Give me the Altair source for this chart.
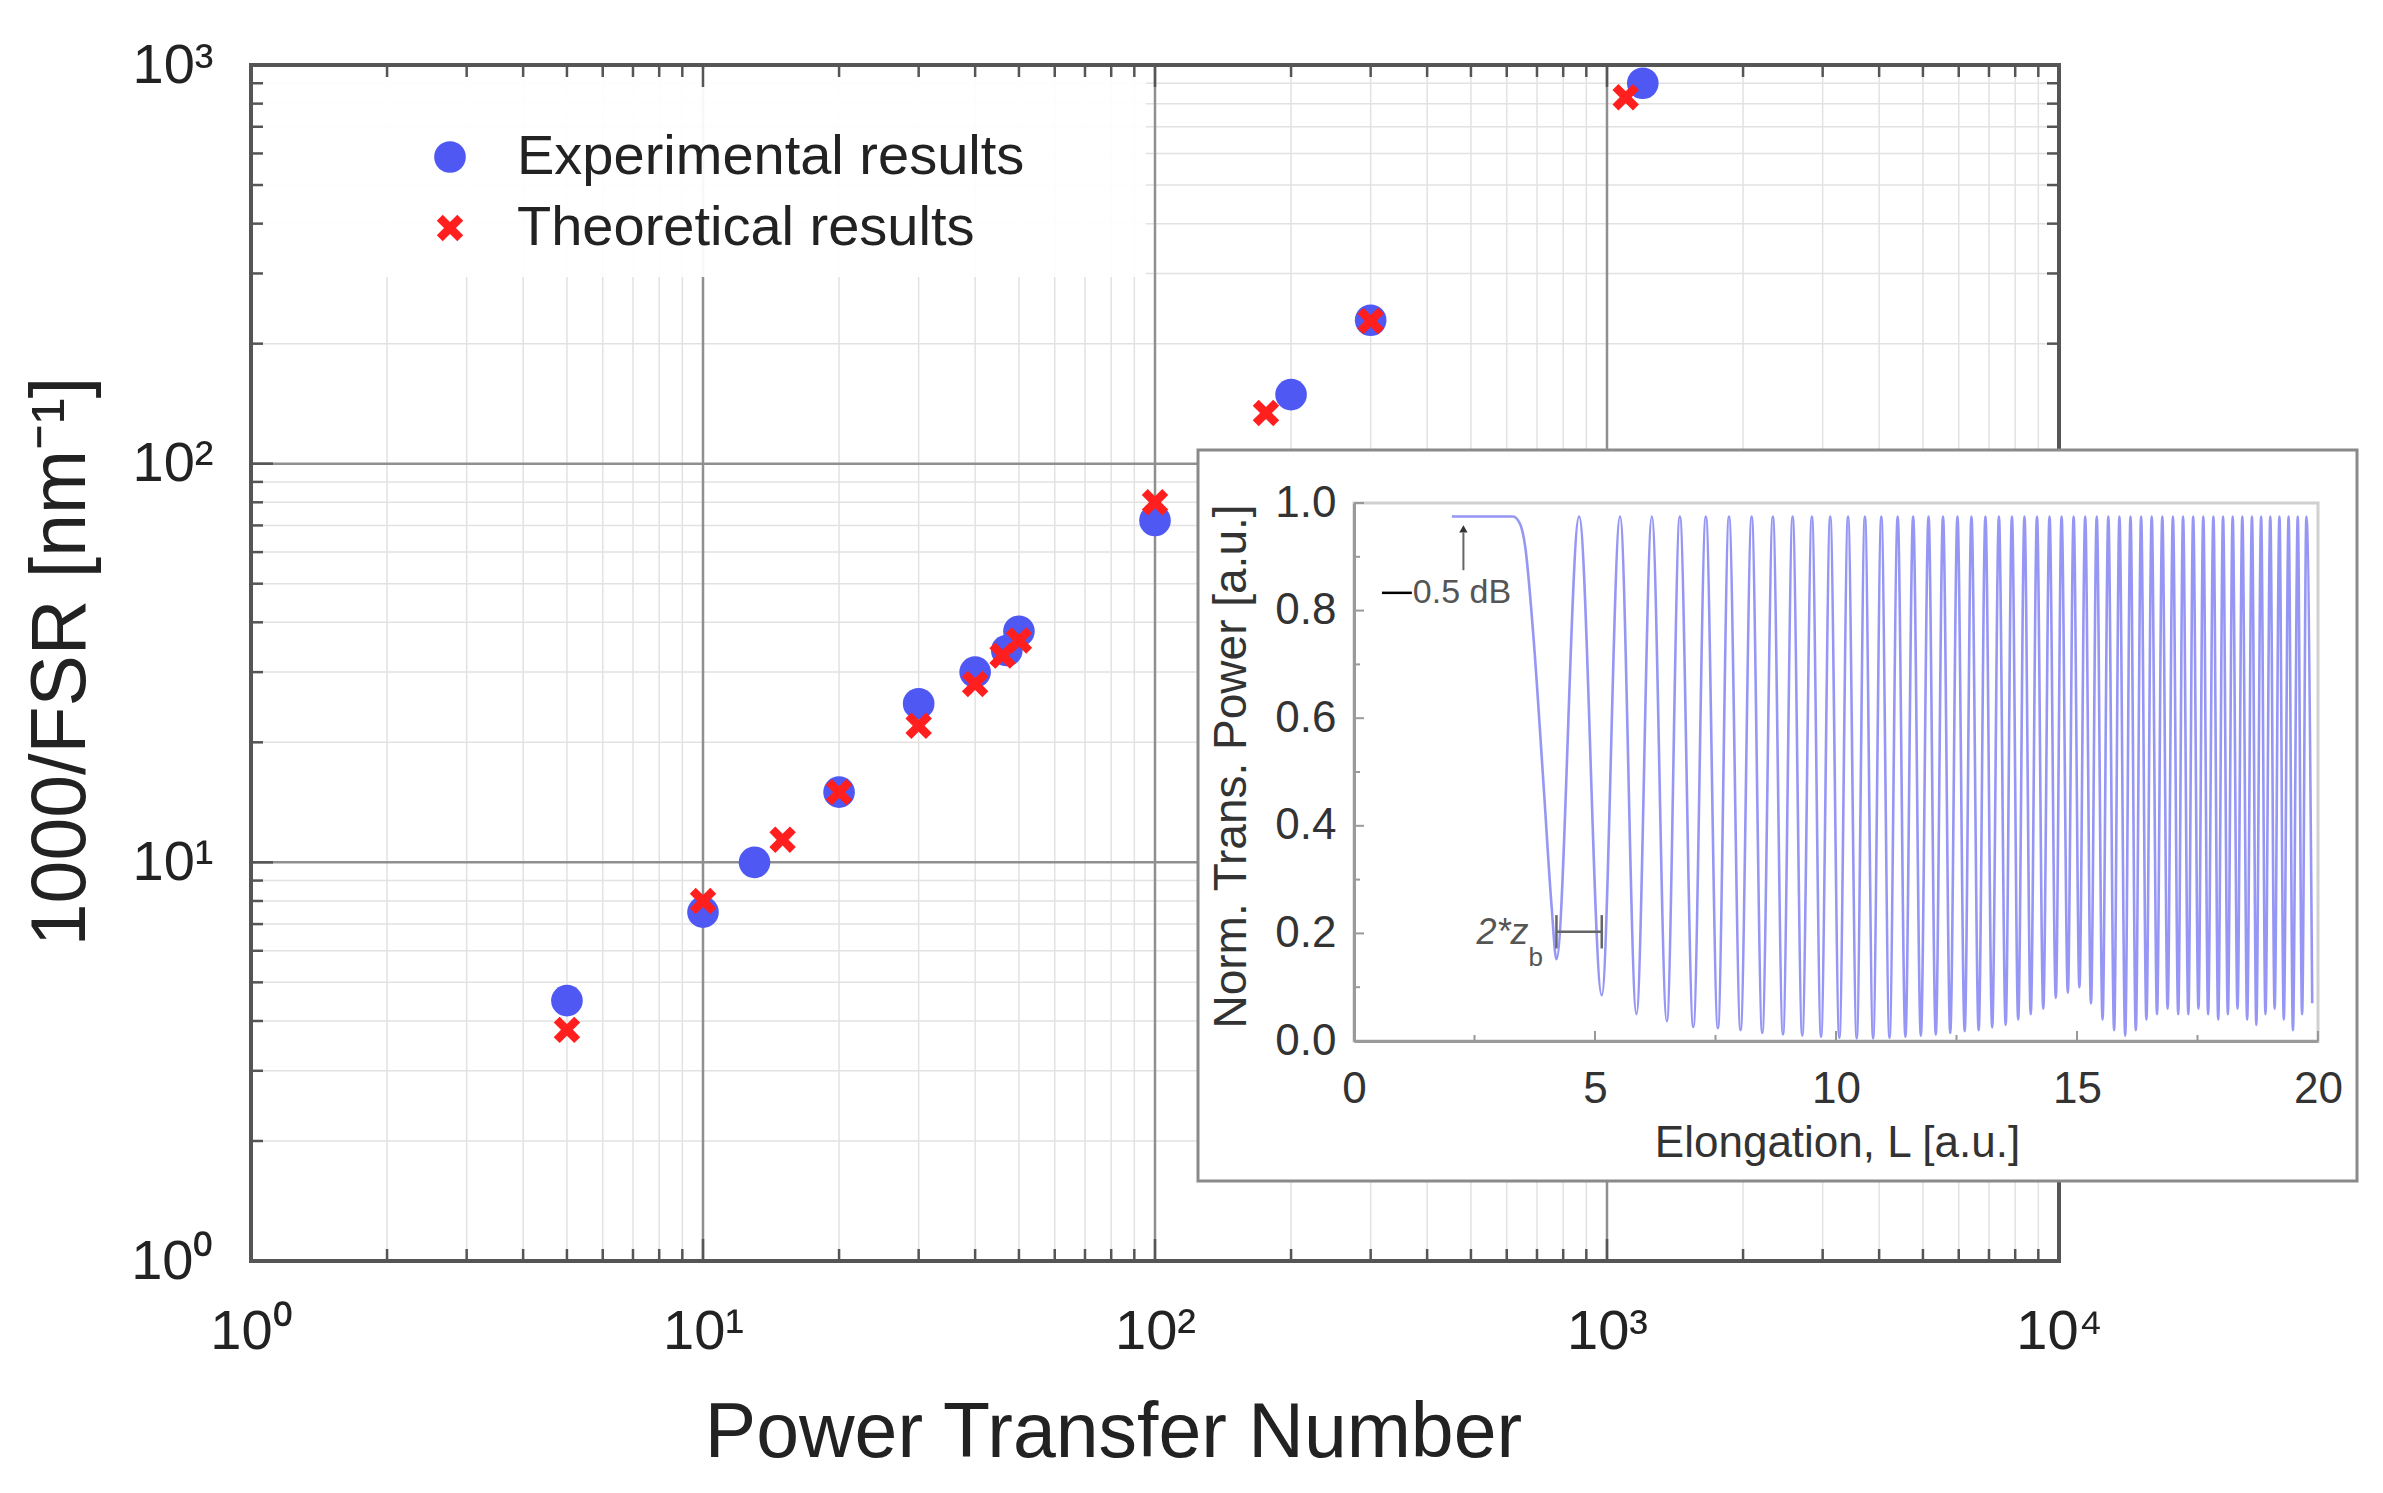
import altair as alt
import pandas as pd

FONT = "Liberation Sans"
EXP_COLOR = "#4f58f2"
TH_COLOR = "#ff1f1f"

# ---------------- main plot data ----------------
exp_x = [5, 10, 13, 20, 30, 40, 47, 50, 100, 200, 300, 1200]
exp_y = [4.5, 7.5, 10.0, 15.0, 25.0, 30.0, 34.0, 38.0, 72.0, 149.0, 229.0, 900.0]
th_x = [5, 10, 15, 20, 30, 40, 46, 50, 100, 176, 300, 1100]
th_y = [3.8, 8.0, 11.4, 15.0, 22.0, 28.0, 33.0, 36.0, 80.0, 134.0, 228.0, 830.0]

legend_labels = ["Experimental results", "Theoretical results"]

x_decades = [1, 10, 100, 1000, 10000]
y_decades = [1, 10, 100, 1000]
minor_mult = [2, 3, 4, 5, 6, 7, 8, 9]
x_minor = [d * m for d in [1, 10, 100, 1000] for m in minor_mult]
y_minor = [d * m for d in [1, 10, 100] for m in minor_mult]

# ---------------- inset data ----------------
inset_L = [2.03, 3.30, 3.45, 3.55, 3.72, 3.93, 4.10, 4.20,
           4.67, 5.14, 5.52, 5.86, 6.18, 6.49, 6.76, 7.04, 7.30, 7.55, 7.78, 8.02,
           8.25, 8.47, 8.69, 8.90, 9.10, 9.30, 9.50, 9.69, 9.88, 10.07,
           10.25, 10.43, 10.60, 10.77, 10.94, 11.11, 11.28, 11.44, 11.60, 11.76,
           11.92, 12.07, 12.22, 12.37, 12.52, 12.67, 12.81, 12.96, 13.10, 13.24,
           13.38, 13.52, 13.65, 13.78, 13.91, 14.04, 14.17, 14.30, 14.43, 14.56,
           14.68, 14.81, 14.93, 15.05, 15.17, 15.29, 15.41, 15.53, 15.65, 15.77,
           15.88, 16.00, 16.11, 16.22, 16.33, 16.44, 16.55, 16.66, 16.77, 16.88,
           16.99, 17.10, 17.20, 17.31, 17.41, 17.52, 17.62, 17.72, 17.83, 17.93,
           18.03, 18.13, 18.23, 18.33, 18.43, 18.53, 18.63, 18.72, 18.82, 18.91,
           19.01, 19.10, 19.20, 19.29, 19.39, 19.48, 19.58, 19.67, 19.76, 19.88]
inset_T = [0.975, 0.975, 0.96, 0.92, 0.755, 0.48, 0.25, 0.152,
           0.975, 0.085, 0.975, 0.05, 0.975, 0.037, 0.975, 0.026, 0.975, 0.024, 0.975, 0.02,
           0.975, 0.015, 0.975, 0.012, 0.975, 0.010, 0.975, 0.008, 0.975, 0.006,
           0.975, 0.005, 0.975, 0.005, 0.975, 0.006, 0.975, 0.008, 0.975, 0.010,
           0.975, 0.012, 0.975, 0.015, 0.975, 0.018, 0.975, 0.020, 0.975, 0.025,
           0.975, 0.030, 0.975, 0.040, 0.975, 0.050, 0.975, 0.060, 0.975, 0.080,
           0.975, 0.090, 0.975, 0.100, 0.975, 0.070, 0.975, 0.040, 0.975, 0.020,
           0.975, 0.010, 0.975, 0.020, 0.975, 0.040, 0.975, 0.050, 0.975, 0.060,
           0.975, 0.050, 0.975, 0.050, 0.975, 0.060, 0.975, 0.050, 0.975, 0.040,
           0.975, 0.050, 0.975, 0.060, 0.975, 0.040, 0.975, 0.030, 0.975, 0.050,
           0.975, 0.060, 0.975, 0.040, 0.975, 0.020, 0.975, 0.050, 0.975, 0.070]
inset_x_ticks = [0, 5, 10, 15, 20]
inset_x_minor = [2.5, 7.5, 12.5, 17.5]
inset_y_ticks = [0.0, 0.2, 0.4, 0.6, 0.8, 1.0]
inset_y_minor = [0.1, 0.3, 0.5, 0.7, 0.9]

# ---------------- geometry ----------------
W, H = 1808, 1196
one = pd.DataFrame({"k": [0]})

sup_expr = ("datum.value == 1 ? '10\u2070' : datum.value == 10 ? '10\u00b9' : "
            "datum.value == 100 ? '10\u00b2' : datum.value == 1000 ? '10\u00b3' : '10\u2074'")

xs = alt.Scale(type="log", domain=[1, 10000], nice=False)
ys = alt.Scale(type="log", domain=[1, 1000], nice=False)

x_axis = alt.Axis(values=x_decades, labelExpr=sup_expr, labelFont=FONT, labelFontSize=56,
                  labelColor="#222", labelPadding=43, labelFlush=False, labelOverlap=False,
                  ticks=False, tickSize=0, domain=False, grid=False,
                  title="Power Transfer Number", titleFont=FONT, titleFontSize=77,
                  titleFontWeight="normal", titleColor="#222", titleX=862, titleY=172,
                  titleBaseline="middle", titleAlign="center")
y_axis = alt.Axis(values=y_decades, labelExpr=sup_expr, labelFont=FONT, labelFontSize=56,
                  labelColor="#222", labelPadding=38, labelFlush=False, labelOverlap=False,
                  ticks=False, tickSize=0, domain=False, grid=False,
                  title="1000/FSR [nm\u207b\u00b9]", titleFont=FONT, titleFontSize=77,
                  titleFontWeight="normal", titleColor="#222", titleX=-190, titleY=596,
                  titleAngle=270, titleBaseline="middle", titleAlign="center")


def MX(f):
    return alt.X(f"{f}:Q", scale=xs, axis=x_axis)


def MY(f):
    return alt.Y(f"{f}:Q", scale=ys, axis=y_axis)


df_exp = pd.DataFrame({"x": exp_x, "y": exp_y})
df_th = pd.DataFrame({"x": th_x, "y": th_y})
df_xmaj = pd.DataFrame({"v": x_decades})
df_ymaj = pd.DataFrame({"v": y_decades})
df_xmin = pd.DataFrame({"v": x_minor})
df_ymin = pd.DataFrame({"v": y_minor})

XSHAPE = ("M -1 -0.55 L -0.55 -1 L 0 -0.45 L 0.55 -1 L 1 -0.55 L 0.45 0 L 1 0.55 "
          "L 0.55 1 L 0 0.45 L -0.55 1 L -1 0.55 L -0.45 0 Z")

layers = []
layers.append(alt.Chart(df_xmin).mark_rule(color="#e2e2e2", strokeWidth=1.5).encode(x=MX("v")))
layers.append(alt.Chart(df_ymin).mark_rule(color="#e2e2e2", strokeWidth=1.5).encode(y=MY("v")))
layers.append(alt.Chart(df_xmaj).mark_rule(color="#8f8f8f", strokeWidth=2.5).encode(x=MX("v")))
layers.append(alt.Chart(df_ymaj).mark_rule(color="#8f8f8f", strokeWidth=2.5).encode(y=MY("v")))
# legend background
layers.append(alt.Chart(one).mark_rect(color="white", opacity=0.93).encode(
    x=alt.value(4), x2=alt.value(895), y=alt.value(4), y2=alt.value(212)))
# inward ticks
for df, ln in ((df_xmaj, 22), (df_xmin, 12)):
    layers.append(alt.Chart(df).mark_rule(color="#555", strokeWidth=2.5).encode(
        x=MX("v"), y=alt.value(H), y2=alt.value(H - ln)))
    layers.append(alt.Chart(df).mark_rule(color="#555", strokeWidth=2.5).encode(
        x=MX("v"), y=alt.value(0), y2=alt.value(ln)))
for df, ln in ((df_ymaj, 22), (df_ymin, 12)):
    layers.append(alt.Chart(df).mark_rule(color="#555", strokeWidth=2.5).encode(
        y=MY("v"), x=alt.value(0), x2=alt.value(ln)))
    layers.append(alt.Chart(df).mark_rule(color="#555", strokeWidth=2.5).encode(
        y=MY("v"), x=alt.value(W), x2=alt.value(W - ln)))
# frame
layers.append(alt.Chart(one).mark_rect(fillOpacity=0, stroke="#555", strokeWidth=4).encode(
    x=alt.value(0), x2=alt.value(W), y=alt.value(0), y2=alt.value(H)))
# data
layers.append(alt.Chart(df_exp).mark_point(shape="circle", filled=True, size=1000,
                                           color=EXP_COLOR, opacity=1).encode(x=MX("x"), y=MY("y")))
layers.append(alt.Chart(df_th).mark_point(shape=XSHAPE, filled=True, size=700,
                                          color=TH_COLOR, opacity=1).encode(x=MX("x"), y=MY("y")))
# legend
layers.append(alt.Chart(one).mark_point(shape="circle", filled=True, size=1000, color=EXP_COLOR,
                                        opacity=1).encode(x=alt.value(199), y=alt.value(92)))
layers.append(alt.Chart(one).mark_point(shape=XSHAPE, filled=True, size=700, color=TH_COLOR,
                                        opacity=1).encode(x=alt.value(199), y=alt.value(163)))
layers.append(alt.Chart(one).mark_text(align="left", baseline="middle", font=FONT, fontSize=56,
                                       color="#222").encode(x=alt.value(266), y=alt.value(92),
                                                            text=alt.value(legend_labels[0])))
layers.append(alt.Chart(one).mark_text(align="left", baseline="middle", font=FONT, fontSize=56,
                                       color="#222").encode(x=alt.value(266), y=alt.value(163),
                                                            text=alt.value(legend_labels[1])))
main = alt.layer(*layers)

# ---------------- inset ----------------
IX0, IX1 = 1103, 2067   # inset plot area in main plot pixels
IY0, IY1 = 976, 438
ixs = alt.Scale(domain=[0, 20], range=[IX0, IX1], nice=False, zero=False)
iys = alt.Scale(domain=[0, 1], range=[IY0, IY1], nice=False, zero=False)
ix_axis = alt.Axis(orient="bottom", offset=IY0 - H, values=inset_x_ticks, format="d", zindex=2,
                   labelFont=FONT, labelFontSize=44, labelColor="#333", labelPadding=26,
                   labelFlush=False, ticks=False, tickSize=0, domain=True, domainColor="#9a9a9a",
                   domainWidth=3, grid=False, title="Elongation, L [a.u.]", titleFont=FONT,
                   titleFontSize=44, titleFontWeight="normal", titleColor="#333",
                   titleX=1586, titleY=102, titleBaseline="middle", titleAlign="center")
iy_axis = alt.Axis(orient="left", offset=-IX0, values=inset_y_ticks, format=".1f", zindex=2,
                   labelFont=FONT, labelFontSize=44, labelColor="#333", labelPadding=18,
                   labelFlush=False, ticks=False, tickSize=0, domain=True, domainColor="#9a9a9a",
                   domainWidth=3, grid=False, title="Norm. Trans. Power [a.u.]", titleFont=FONT,
                   titleFontSize=46, titleFontWeight="normal", titleColor="#333",
                   titleX=-123, titleY=701, titleAngle=270, titleBaseline="middle",
                   titleAlign="center")


def IX(f):
    return alt.X(f"{f}:Q", scale=ixs, axis=ix_axis)


def IY(f):
    return alt.Y(f"{f}:Q", scale=iys, axis=iy_axis)


ilayers = []
ilayers.append(alt.Chart(one).mark_rect(fill="white", stroke="#8a8a8a", strokeWidth=3).encode(
    x=alt.value(947), x2=alt.value(2106), y=alt.value(385), y2=alt.value(1116)))
ilayers.append(alt.Chart(one).mark_rect(fillOpacity=0, stroke="#d0d0d0", strokeWidth=3).encode(
    x=alt.value(IX0), x2=alt.value(IX1), y=alt.value(IY1), y2=alt.value(IY0)))
for vals, ln in ((inset_x_ticks, 10), (inset_x_minor, 6)):
    ilayers.append(alt.Chart(pd.DataFrame({"v": vals})).mark_rule(color="#999", strokeWidth=2).encode(
        x=IX("v"), y=alt.value(IY0), y2=alt.value(IY0 - ln)))
for vals, ln in ((inset_y_ticks, 10), (inset_y_minor, 6)):
    ilayers.append(alt.Chart(pd.DataFrame({"v": vals})).mark_rule(color="#999", strokeWidth=2).encode(
        y=IY("v"), x=alt.value(IX0), x2=alt.value(IX0 + ln)))

df_inset = pd.DataFrame({"L": inset_L, "T": inset_T})
ilayers.append(alt.Chart(df_inset).mark_line(interpolate="monotone", color="#5e5ef0",
                                             strokeWidth=2.6, opacity=0.65).encode(
    x=IX("L"), y=IY("T"), order="L:Q"))

# annotations
ilayers.append(alt.Chart(pd.DataFrame({"a": [0.58], "b": [1.2], "c": [0.833]})).mark_rule(
    color="black", strokeWidth=2.5).encode(x=IX("a"), x2="b:Q", y=IY("c")))
ilayers.append(alt.Chart(pd.DataFrame({"a": [1.22], "c": [0.833]})).mark_text(
    align="left", baseline="middle", font=FONT, fontSize=34, color="#555").encode(
    x=IX("a"), y=IY("c"), text=alt.value("0.5 dB")))
ilayers.append(alt.Chart(pd.DataFrame({"a": [2.27], "c": [0.875], "d": [0.945]})).mark_rule(
    color="#666", strokeWidth=2).encode(x=IX("a"), y=IY("c"), y2="d:Q"))
ilayers.append(alt.Chart(pd.DataFrame({"a": [2.27], "c": [0.952]})).mark_point(
    shape="triangle-up", filled=True, size=70, color="#333", opacity=1).encode(x=IX("a"), y=IY("c")))
ilayers.append(alt.Chart(pd.DataFrame({"a": [3.62], "c": [0.2]})).mark_text(
    align="right", baseline="middle", font=FONT, fontSize=36, fontStyle="italic", color="#555").encode(
    x=IX("a"), y=IY("c"), text=alt.value("2*z")))
ilayers.append(alt.Chart(pd.DataFrame({"a": [3.62], "c": [0.155]})).mark_text(
    align="left", baseline="middle", font=FONT, fontSize=26, color="#555").encode(
    x=IX("a"), y=IY("c"), text=alt.value("b")))
ilayers.append(alt.Chart(pd.DataFrame({"a": [4.2], "b": [5.14], "c": [0.203]})).mark_rule(
    color="#666", strokeWidth=2.5).encode(x=IX("a"), x2="b:Q", y=IY("c")))
ilayers.append(alt.Chart(pd.DataFrame({"a": [4.2, 5.14], "c": [0.172, 0.172], "d": [0.234, 0.234]})).mark_rule(
    color="#666", strokeWidth=2.5).encode(x=IX("a"), y=IY("c"), y2="d:Q"))

inset = alt.layer(*ilayers)

chart = alt.layer(main, inset).resolve_scale(x="independent", y="independent").properties(
    width=W, height=H,
    padding={"left": 243, "top": 57, "right": 310, "bottom": 215},
    autosize=alt.AutoSizeParams(type="none"),
).configure_view(stroke=None)

chart.save("out.html", embed_options={"renderer": "svg", "actions": False})
